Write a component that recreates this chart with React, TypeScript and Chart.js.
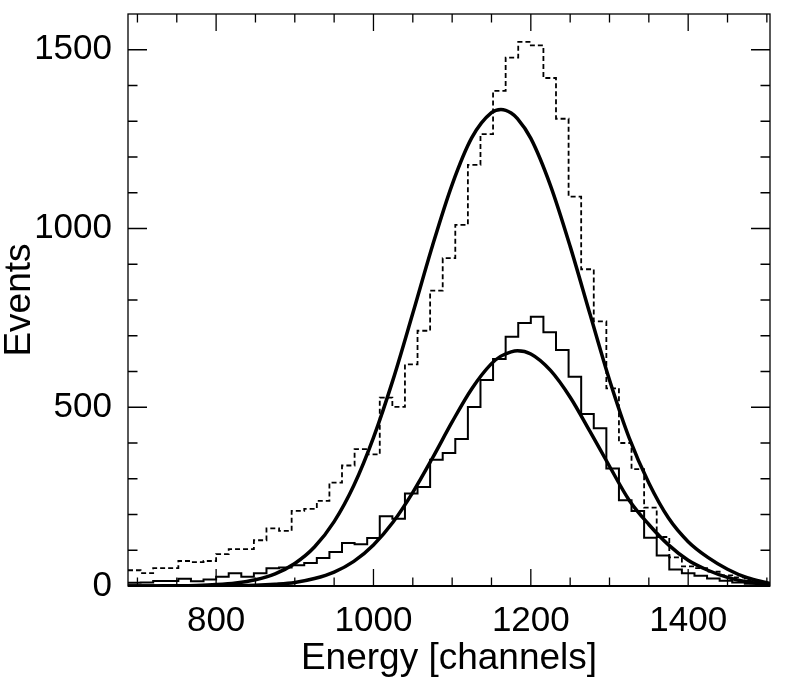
import React, { useEffect, useRef } from "react";
import { Chart, registerables } from "chart.js";

Chart.register(...registerables);

// Histogram binning (channels)
const BIN_START = 688;
const BIN_WIDTH = 16;

// Solid histogram (events per bin)
const SOLID_HIST = [
  9, 10, 14, 14, 20, 13, 18, 26, 36, 26,
  36, 50, 52, 58, 64, 78, 95, 120, 117, 134,
  195, 188, 259, 277, 353, 372, 411, 501, 576, 635,
  697, 736, 753, 710, 660, 585, 481, 441, 329, 240,
  210, 135, 85, 46, 36, 29, 21, 15, 10, 6,
  4,
];

// Dashed histogram (events per bin)
const DASHED_HIST = [
  44, 36, 50, 50, 70, 67, 70, 89, 103, 103,
  128, 161, 154, 210, 216, 238, 289, 337, 383, 368,
  527, 501, 620, 714, 826, 917, 1010, 1178, 1264, 1385,
  1478, 1522, 1512, 1421, 1307, 1089, 886, 740, 553, 400,
  327, 219, 137, 80, 55, 50, 40, 30, 24, 14,
  7,
];

// Fit curves, sampled positions
const FIT_X = [
  688, 700, 725, 750, 775, 800, 825, 850, 875, 900,
  925, 950, 975, 1000, 1025, 1050, 1075, 1100, 1125, 1150,
  1162, 1175, 1183, 1200, 1225, 1250, 1275, 1300, 1325, 1350,
  1375, 1400, 1425, 1450, 1475, 1500, 1504,
];
const FIT_UPPER = [
  0, 0, 0.3, 0.7, 1.7, 4, 8.5, 17.5, 34, 63,
  109, 180, 281, 415, 578, 763, 952, 1123, 1254, 1324,
  1333, 1323, 1307, 1252, 1120, 950, 762, 576, 414, 288,
  190, 124, 80, 47, 23, 9, 7,
];
const FIT_LOWER = [
  0, 0, 0, 0, 0.1, 0.3, 0.8, 2, 5, 10,
  21, 39, 69, 115, 179, 262, 358, 459, 552, 622,
  643, 655, 658, 649, 603, 528, 433, 335, 240, 172,
  115, 72, 44, 24, 11, 5, 4,
];

// Axes
const X_MIN = 688;
const X_MAX = 1504;
const Y_MIN = 0;
const Y_MAX = 1600;
const X_TICKS = [800, 1000, 1200, 1400];
const X_MINOR = [
  700, 750, 800, 850, 900, 950, 1000, 1050, 1100, 1150,
  1200, 1250, 1300, 1350, 1400, 1450, 1500,
];
const Y_TICKS = [0, 500, 1000, 1500];
const Y_MINOR = [100, 200, 300, 400, 500, 600, 700, 800, 900, 1000, 1100, 1200, 1300, 1400, 1500];

const X_TITLE = "Energy [channels]";
const Y_TITLE = "Events";

const FONT = "'Liberation Sans', Arial, Helvetica, sans-serif";

function histPoints(values: number[]) {
  const pts = values.map((v, i) => ({ x: BIN_START + i * BIN_WIDTH, y: v }));
  pts.push({ x: BIN_START + values.length * BIN_WIDTH, y: values[values.length - 1] });
  return pts;
}

function curvePoints(xs: number[], ys: number[]) {
  return xs.map((x, i) => ({ x, y: ys[i] }));
}

const frameTicks = {
  id: "frameTicks",
  afterDatasetsDraw(chart: any) {
    const { ctx, chartArea } = chart;
    const { left, right, top, bottom } = chartArea;
    const xs = chart.scales.x;
    const ys = chart.scales.y;
    ctx.save();
    ctx.strokeStyle = "#000";
    ctx.lineWidth = 1.3;
    ctx.strokeRect(left, top, right - left, bottom - top);
    ctx.beginPath();
    for (const v of X_MINOR) {
      const px = xs.getPixelForValue(v);
      const len = X_TICKS.includes(v) ? 17 : 8.5;
      ctx.moveTo(px, bottom);
      ctx.lineTo(px, bottom - len);
      ctx.moveTo(px, top);
      ctx.lineTo(px, top + len);
    }
    for (const v of Y_MINOR) {
      const py = ys.getPixelForValue(v);
      const len = Y_TICKS.includes(v) ? 19 : 9.5;
      ctx.moveTo(left, py);
      ctx.lineTo(left + len, py);
      ctx.moveTo(right, py);
      ctx.lineTo(right - len, py);
    }
    ctx.stroke();
    ctx.lineWidth = 2;
    ctx.beginPath();
    ctx.moveTo(left, bottom);
    ctx.lineTo(right, bottom);
    ctx.stroke();
    ctx.restore();
  },
};

export default function App() {
  const ref = useRef<HTMLCanvasElement>(null);

  useEffect(() => {
    if (!ref.current) return;
    const chart = new Chart(ref.current, {
      type: "line",
      data: {
        datasets: [
          {
            label: "dashed",
            data: histPoints(DASHED_HIST),
            borderColor: "#000",
            borderWidth: 1.8,
            borderDash: [5, 3],
            stepped: true,
            pointRadius: 0,
            fill: false,
          },
          {
            label: "solid",
            data: histPoints(SOLID_HIST),
            borderColor: "#000",
            borderWidth: 2,
            stepped: true,
            pointRadius: 0,
            fill: false,
          },
          {
            label: "fit upper",
            data: curvePoints(FIT_X, FIT_UPPER),
            borderColor: "#000",
            borderWidth: 3.5,
            cubicInterpolationMode: "monotone",
            pointRadius: 0,
            fill: false,
          },
          {
            label: "fit lower",
            data: curvePoints(FIT_X, FIT_LOWER),
            borderColor: "#000",
            borderWidth: 3.5,
            cubicInterpolationMode: "monotone",
            pointRadius: 0,
            fill: false,
          },
        ],
      },
      options: {
        animation: false,
        responsive: false,
        layout: { padding: { top: 14, right: 19, left: 0, bottom: 0 } },
        plugins: {
          legend: { display: false },
          tooltip: { enabled: false },
        },
        scales: {
          x: {
            type: "linear",
            min: X_MIN,
            max: X_MAX,
            grid: { display: false },
            border: { display: false },
            ticks: {
              color: "#000",
              font: { family: FONT, size: 35 },
              padding: 6,
              maxRotation: 0,
              autoSkip: false,
              callback: (v: any) => String(v),
            },
            afterBuildTicks: (s: any) => {
              s.ticks = X_TICKS.map((v) => ({ value: v }));
            },
            afterFit: (s: any) => {
              s.height = 97;
              s.paddingLeft = 0;
              s.paddingRight = 0;
            },
            title: {
              display: true,
              text: X_TITLE,
              color: "#000",
              font: { family: FONT, size: 37, lineHeight: 1 },
              padding: { top: 0, bottom: 6 },
            },
          },
          y: {
            type: "linear",
            min: Y_MIN,
            max: Y_MAX,
            grid: { display: false },
            border: { display: false },
            ticks: {
              color: "#000",
              font: { family: FONT, size: 35 },
              padding: 8,
              autoSkip: false,
              callback: (v: any) => String(v),
            },
            afterBuildTicks: (s: any) => {
              s.ticks = Y_TICKS.map((v) => ({ value: v }));
            },
            afterFit: (s: any) => {
              s.width = 128;
              s.paddingTop = 0;
              s.paddingBottom = 0;
            },
            title: {
              display: true,
              text: Y_TITLE,
              color: "#000",
              font: { family: FONT, size: 37, lineHeight: 1 },
              padding: { top: 1.5, bottom: 0 },
            },
          },
        },
      },
      plugins: [frameTicks],
    } as any);
    return () => chart.destroy();
  }, []);

  return (
    <div
      style={{
        position: "absolute",
        left: 0,
        top: 0,
        width: 789,
        height: 683,
        background: "#fff",
      }}
    >
      <canvas ref={ref} width={789} height={683} style={{ display: "block", width: 789, height: 683 }} />
    </div>
  );
}
